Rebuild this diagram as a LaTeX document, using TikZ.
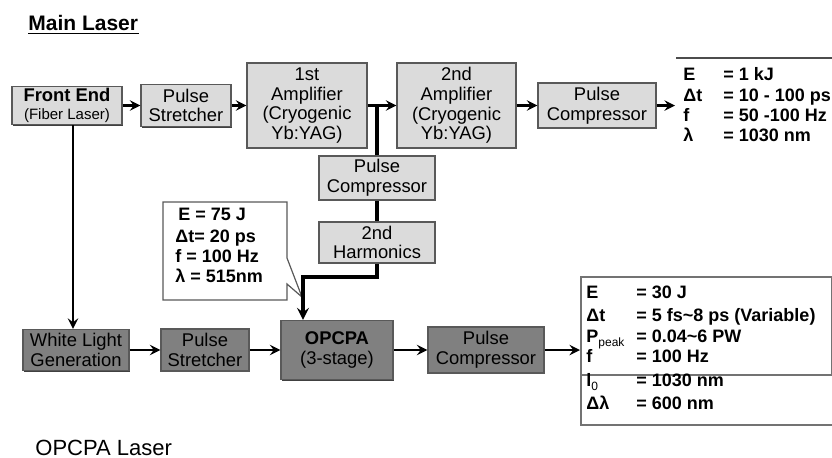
\documentclass[tikz,border=0pt]{standalone}
\usepackage{fontspec}
\setmainfont{Liberation Sans}
\usetikzlibrary{arrows,shadows}
\definecolor{boxlight}{gray}{0.86}
\definecolor{boxdark}{gray}{0.5}
\definecolor{boxline}{gray}{0.35}
\tikzset{
  unit/.style={draw=boxline, line width=0.6pt, align=center, inner sep=1pt,
    font=\fontsize{9.2}{9.9}\selectfont,
    drop shadow={shadow xshift=0.6pt, shadow yshift=-0.6pt, fill=black!75, opacity=1}},
  mainunit/.style={unit, fill=boxlight},
  opcpaunit/.style={unit, fill=boxdark},
  beam/.style={line width=1.3pt, ->},
  feed/.style={line width=1.6pt},
  spec/.style={anchor=base west, inner sep=0pt, font=\fontsize{9}{10}\selectfont\bfseries},
}
\newcommand{\lowidx}[1]{\raisebox{-2pt}{\fontsize{6}{6}\selectfont\mdseries #1}}

\begin{document}
\begin{tikzpicture}[x=0.5pt,y=-0.5pt,>=stealth]
    \useasboundingbox (0,0) rectangle (832,457);

    % Titles
    \node[spec, font=\fontsize{10.5}{12}\selectfont\bfseries] (mainlbl) at (28,30) {Main Laser};
    \draw[line width=0.7pt] ([yshift=-1.6pt]mainlbl.base west) -- ([yshift=-1.6pt]mainlbl.base east);
    \node[spec, font=\fontsize{11}{12}\selectfont] (opcpalbl) at (35,455) {OPCPA Laser};

    % Main laser chain
    \node[mainunit, minimum width=55pt, minimum height=18.5pt] (front) at (67,105.5)
        {\textbf{Front End}\\[-1pt]{\fontsize{7.5}{8}\selectfont(Fiber Laser)}};
    \node[mainunit, minimum width=45pt, minimum height=21pt] (stretch1) at (186,105.5) {Pulse\\Stretcher};
    \node[mainunit, minimum width=60pt, minimum height=42.5pt] (amp1) at (307,105.5)
        {1st\\Amplifier\\(Cryogenic\\Yb:YAG)};
    \node[mainunit, minimum width=59.5pt, minimum height=42.5pt] (amp2) at (456.5,105.5)
        {2nd\\Amplifier\\(Cryogenic\\Yb:YAG)};
    \node[mainunit, minimum width=59pt, minimum height=22.5pt] (comp1) at (597,105.5) {Pulse\\Compressor};
    \coordinate (mainout) at (675,105.5);

    % Pump branch
    \node[mainunit, minimum width=58pt, minimum height=22pt] (comp2) at (377,178) {Pulse\\Compressor};
    \node[mainunit, minimum width=58pt, minimum height=20.5pt] (shg) at (377,242.5) {2nd\\Harmonics};

    % OPCPA chain
    \node[opcpaunit, minimum width=53pt, minimum height=20.5pt] (wlg) at (76,350) {White Light\\Generation};
    \node[opcpaunit, minimum width=44pt, minimum height=21pt] (stretch2) at (205,350) {Pulse\\Stretcher};
    \node[opcpaunit, minimum width=56pt, minimum height=29.5pt] (opcpa) at (337,350)
        {\textbf{OPCPA}\\(3-stage)};
    \node[opcpaunit, minimum width=58pt, minimum height=23pt] (comp3) at (486,350) {Pulse\\Compressor};
    \coordinate (opcpaout) at (580,350);

    % Beams
    \draw[beam] (front) -- (stretch1);
    \draw[beam] (stretch1) -- (amp1);
    \draw[beam] (amp1) -- (amp2);
    \draw[beam] (amp2) -- (comp1);
    \draw[beam] (comp1) -- (mainout);
    \draw[beam] ([xshift=3pt]front.south) -- ([xshift=3pt]front.south |- wlg.north);
    \draw[beam] (wlg) -- (stretch2);
    \draw[beam] (stretch2) -- (opcpa);
    \draw[beam] (opcpa) -- (comp3);
    \draw[beam] (comp3) -- (opcpaout);

    % Pump callout
    \draw[draw=boxline, line width=0.6pt, fill=white] (163,202) -- (287,202) -- (287,258) -- (302,297)
        -- (287,284) -- (287,300) -- (163,300) -- cycle;
    \node[spec] (pumpE) at (178,220) {E = 75 J};
    \node[spec] (pumpdt) at (175,242) {Δt= 20 ps};
    \node[spec] (pumpf) at (175,262) {f = 100 Hz};
    \node[spec] (pumpl) at (175,282) {λ = 515nm};

    % Pump line
    \coordinate (pumpbend) at (303,277);
    \draw[feed] (comp2.north) -- (comp2.north |- amp1.east);
    \draw[feed] (comp2) -- (shg);
    \draw[feed,->] (shg.south) |- (pumpbend) -- (pumpbend |- opcpa.north);

    % Main laser output
    \draw[line width=1pt, black!70] (676,58) -- (832,58);
    \foreach \lab/\val/\y [count=\i] in {E/= 1 kJ/80, Δt/= 10 - 100 ps/101.5, f/= 50 -100 Hz/121.5, λ/= 1030 nm/141}
    {
        \node[spec] (mainlab\i) at (683,\y) {\lab};
        \node[spec] (mainval\i) at (723,\y) {\val};
    }

    % OPCPA output
    \draw[line width=0.6pt, black!55] (581,375) -- (831.5,375) -- (831.5,277) -- (581,277) -- (581,425) -- (832,425);
    \foreach \lab/\val/\y [count=\i] in {E/= 30 J/298, Δt/= 5 fs\textasciitilde 8 ps (Variable)/321,
        {P\lowidx{peak}}/= 0.04\textasciitilde 6 PW/342, f/= 100 Hz/362, {l\lowidx{0}}/= 1030 nm/386, Δλ/= 600 nm/409}
    {
        \node[spec] (outlab\i) at (586,\y) {\lab};
        \node[spec] (outval\i) at (636,\y) {\val};
    }

\end{tikzpicture}
\end{document}
